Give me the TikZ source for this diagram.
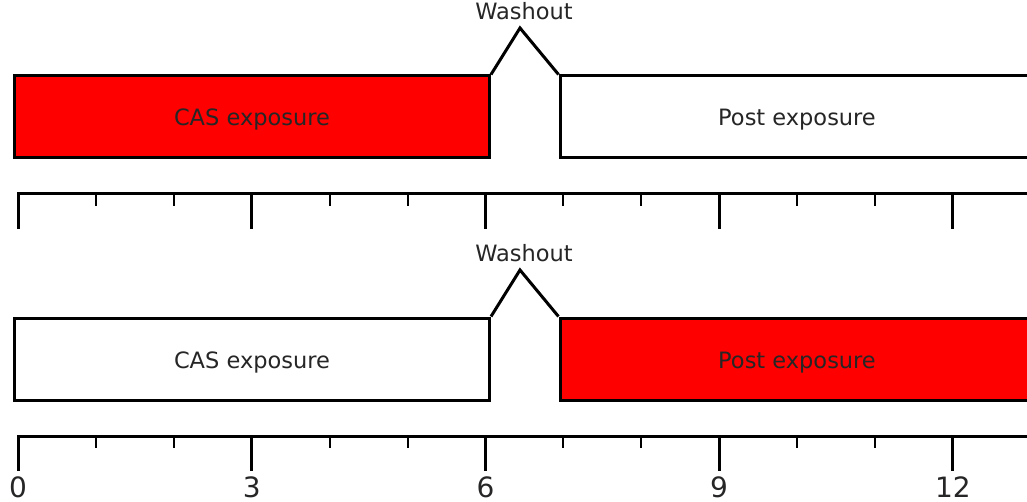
\documentclass[tikz,border=0pt]{standalone}
\usepackage{fontspec}
\setmainfont{DejaVu Sans}
\begin{document}
\begin{tikzpicture}[x=1pt,y=-1pt,
  phase/.style={draw=black, line width=3pt, minimum width=475pt, minimum height=82pt,
    inner sep=0pt, text height=18pt, text depth=0pt,
    font=\fontsize{22.5}{27}\selectfont, text=black!85},
  wash/.style={line width=3pt, line join=miter},
  washlabel/.style={inner sep=0pt, anchor=base, font=\fontsize{22.5}{27}\selectfont, text=black!85},
  axisline/.style={line width=3pt, line join=miter},
  majortick/.style={line width=3pt},
  minortick/.style={line width=2pt},
  ticklabel/.style={inner sep=0pt, anchor=base, font=\fontsize{28}{32}\selectfont, text=black!85}]
\useasboundingbox (0,0) rectangle (1027,502);
\clip (0,0) rectangle (1027,502);
\def\unit{77.9}
\foreach \p/\dy/\casfill/\postfill in {1/0/red/white, 2/242/white/red} {
  % the two phases and the washout gap between them
  \node[phase, fill=\casfill] (cas\p) at (252, 117+\dy) {CAS exposure};
  \node[phase, fill=\postfill, minimum width=474pt] (post\p) at (797, 117+\dy) {Post exposure};
  \coordinate (peak\p) at (520, 28+\dy);
  \draw[wash] (cas\p.north east) -- (peak\p) -- (post\p.north west);
  \node[washlabel] (wl\p) at (524, 19.5+\dy) {Washout};
  % time axis
  \coordinate (ax\p) at (18, 194+\dy);
  \coordinate (axend\p) at (1040, 194+\dy);
  \coordinate (axfoot\p) at (18, 229+\dy);
  \draw[axisline] (axfoot\p) -- (ax\p) -- (axend\p);
  \foreach \t in {3,6,9,12} {
    \draw[majortick] (18+\unit*\t, 194+\dy) -- (18+\unit*\t, 229+\dy);
  }
  \foreach \t in {1,2,4,5,7,8,10,11} {
    \draw[minortick] (18+\unit*\t, 194+\dy) -- (18+\unit*\t, 206+\dy);
  }
}
% hour labels under the lower axis
\foreach \t in {0,3,6,9,12} {
  \node[ticklabel] (lab\t) at (18+\unit*\t, 497) {\t};
}
\end{tikzpicture}
\end{document}
